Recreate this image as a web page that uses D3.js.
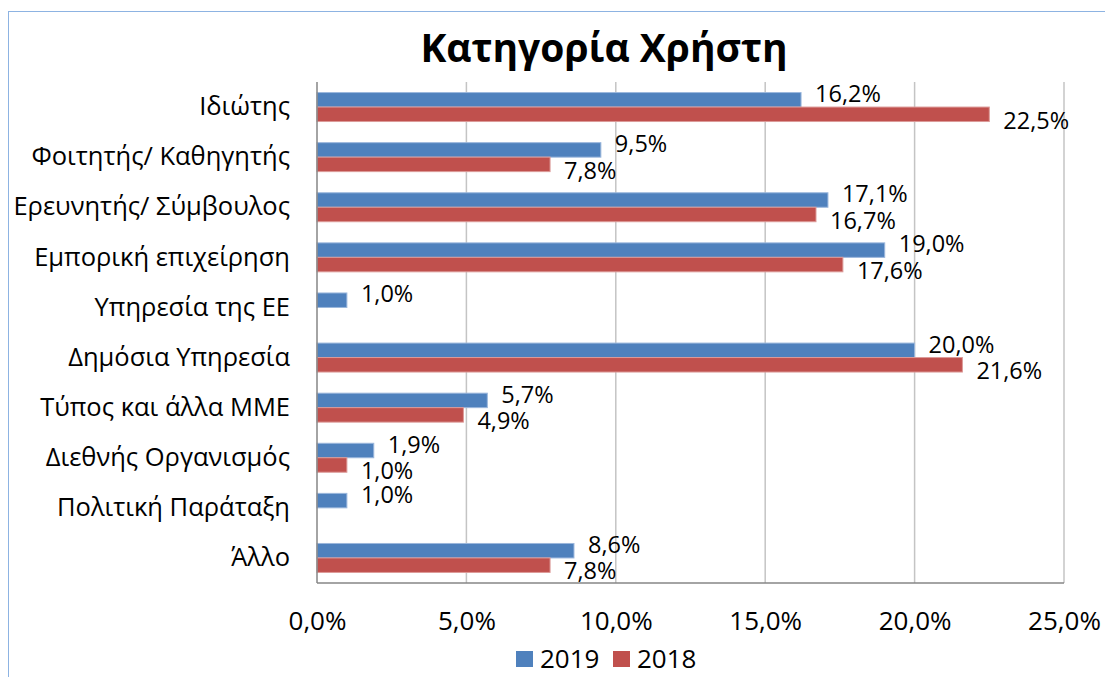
<!DOCTYPE html>
<html>
<head>
<meta charset="utf-8">
<script src="https://cdn.jsdelivr.net/npm/d3@7"></script>
<style>
  body { margin: 0; background: #fff; }
  svg { display: block; font-family: "Open Sans", sans-serif; }
</style>
</head>
<body>
<script>
var width = 1105,
    height = 677;

// data (percent)
var categories = ["Ιδιώτης", "Φοιτητής/ Καθηγητής", "Ερευνητής/ Σύμβουλος", "Εμπορική επιχείρηση",
    "Υπηρεσία της ΕΕ", "Δημόσια Υπηρεσία", "Τύπος και άλλα ΜΜΕ", "Διεθνής Οργανισμός",
    "Πολιτική Παράταξη", "Άλλο"];
var values2019 = [16.2, 9.5, 17.1, 19.0, 1.0, 20.0, 5.7, 1.9, 1.0, 8.6];
var values2018 = [22.5, 7.8, 16.7, 17.6, null, 21.6, 4.9, 1.0, null, 7.8];
var seriesNames = ["2019", "2018"];
var xTicks = [0, 5, 10, 15, 20, 25];

var colors = ["#4f81bd", "#c0504d"],
    strokes = ["#9bb7dc", "#dc9a98"];

var margin = {top: 82, right: 41, bottom: 94, left: 317};

var svg = d3.select("body").append("svg")
    .attr("width", width)
    .attr("height", height);

// outer chart border
svg.append("rect")
    .attr("x", 8.5).attr("y", 11.5)
    .attr("width", width).attr("height", height)
    .attr("fill", "none")
    .attr("stroke", "#8db3e2");

var x = d3.scaleLinear()
    .domain([0, 25])
    .range([margin.left, width - margin.right]);

var y = d3.scaleBand()
    .domain(categories)
    .range([margin.top, height - margin.bottom]);

var sub = d3.scaleBand()
    .domain(seriesNames)
    .range([0, y.bandwidth()])
    .paddingOuter(0.73);

var fmt = function (v) { return v.toFixed(1).replace(".", ",") + "%"; };

// title
svg.append("text")
    .attr("x", 604).attr("y", 62)
    .attr("text-anchor", "middle")
    .attr("font-size", 39)
    .attr("font-weight", "bold")
    .text("Κατηγορία Χρήστη");

// gridlines
svg.append("g").selectAll("line")
    .data(xTicks.slice(1))
    .enter().append("line")
    .attr("x1", function (d) { return x(d); })
    .attr("x2", function (d) { return x(d); })
    .attr("y1", margin.top)
    .attr("y2", height - margin.bottom)
    .attr("stroke", "#c4c4c4")
    .attr("stroke-width", 1.5);

// x axis labels
var xAxis = svg.append("g")
    .attr("transform", "translate(0," + (height - margin.bottom) + ")")
    .call(d3.axisBottom(x).tickValues(xTicks).tickFormat(fmt).tickSize(0).tickPadding(29));
xAxis.select(".domain").remove();
xAxis.selectAll("text")
    .attr("font-family", "Open Sans, sans-serif")
    .attr("font-size", 26)
    .attr("fill", "#000");

// y axis labels
var yAxis = svg.append("g")
    .attr("transform", "translate(" + margin.left + ",0)")
    .call(d3.axisLeft(y).tickSize(0).tickPadding(27));
yAxis.select(".domain").remove();
yAxis.selectAll("text")
    .attr("font-family", "Open Sans, sans-serif")
    .attr("font-size", 25.5)
    .attr("fill", "#000");

var series = [values2019, values2018];

series.forEach(function (vals, si) {
    var rows = categories.map(function (c, i) { return {cat: c, v: vals[i]}; })
        .filter(function (d) { return d.v != null; });

    svg.append("g").selectAll("rect")
        .data(rows)
        .enter().append("rect")
        .attr("x", x(0))
        .attr("y", function (d) { return y(d.cat) + sub(seriesNames[si]); })
        .attr("width", function (d) { return x(d.v) - x(0); })
        .attr("height", sub.bandwidth())
        .attr("fill", colors[si])
        .attr("stroke", strokes[si])
        .attr("stroke-width", 1);

    svg.append("g").selectAll("text")
        .data(rows)
        .enter().append("text")
        .attr("x", function (d) { return x(d.v) + 14; })
        .attr("y", function (d) {
            var c = y(d.cat) + sub(seriesNames[si]) + sub.bandwidth() / 2;
            return c + (si === 0 ? -6 : 6);
        })
        .attr("dy", "0.35em")
        .attr("font-size", 23.5)
        .text(function (d) { return fmt(d.v); });
});

// axis lines
svg.append("line")
    .attr("x1", x(0)).attr("x2", x(0))
    .attr("y1", margin.top).attr("y2", height - margin.bottom)
    .attr("stroke", "#868686").attr("stroke-width", 1.5);
svg.append("line")
    .attr("x1", x(0)).attr("x2", x(25))
    .attr("y1", height - margin.bottom).attr("y2", height - margin.bottom)
    .attr("stroke", "#868686").attr("stroke-width", 1.5);

// legend
var legend = svg.append("g").attr("transform", "translate(516,651)");
var li = legend.selectAll("g")
    .data(seriesNames)
    .enter().append("g")
    .attr("transform", function (d, i) { return "translate(" + (i * 97) + ",0)"; });
li.append("rect")
    .attr("width", 17).attr("height", 16)
    .attr("fill", function (d, i) { return colors[i]; });
li.append("text")
    .attr("x", 24).attr("y", 8)
    .attr("dy", "0.35em")
    .attr("font-size", 26)
    .text(function (d) { return d; });
</script>
</body>
</html>
